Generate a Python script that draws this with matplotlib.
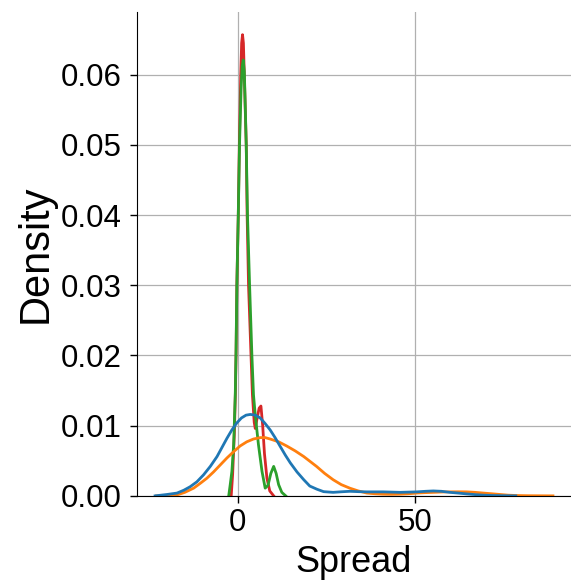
import matplotlib
matplotlib.use("Agg")
import matplotlib.pyplot as plt
from matplotlib.ticker import MultipleLocator

plt.rcParams['font.family'] = ['Liberation Sans', 'DejaVu Sans']

# density curves (x = Spread, y = Density)
blue_x = [-23.4, -20.0, -17.2, -15.3, -13.5, -11.6, -9.7, -7.8, -5.9, -4.5, -3.1, -1.7, -0.3,
          1.0, 2.3, 3.5, 4.9, 6.3, 7.7, 9.1, 10.5, 12.0, 13.4, 14.8, 16.7, 18.6, 20.3,
          22.3, 24.2, 26.9, 29.2, 31.6, 34.0, 36.4, 41.0, 45.8, 50.5, 53.0, 55.2, 57.5,
          59.9, 62.2, 64.6, 67.0, 69.3, 72.0, 74.0, 76.5, 78.5]
blue_y = [0.0000, 0.0002, 0.0004, 0.0008, 0.0013, 0.0020, 0.0030, 0.0042, 0.0056, 0.0069, 0.0082,
          0.0094, 0.0104, 0.0111, 0.0115, 0.0116, 0.0115, 0.0111, 0.0103, 0.0094, 0.0083,
          0.0070, 0.0058, 0.0047, 0.0034, 0.0023, 0.0014, 0.00095, 0.0006, 0.0005, 0.00058,
          0.00065, 0.0006, 0.00057, 0.00057, 0.0005, 0.00057, 0.00065, 0.0007, 0.00065,
          0.0005, 0.0004, 0.00028, 0.00018, 0.0001, 0.00005, 0.00003, 0.00001, 0.0]

orange_x = [-23.0, -20.0, -17.2, -15.0, -12.5, -10.6, -8.8, -6.9, -5.0, -3.1, -1.2, 0.6, 2.5,
            4.4, 6.3, 7.7, 9.1, 11.5, 13.8, 16.2, 18.6, 20.4, 22.2, 24.5, 26.9, 29.2,
            31.6, 34.0, 36.4, 38.7, 41.0, 43.4, 45.8, 48.2, 50.5, 52.9, 55.2, 57.6, 59.9,
            62.3, 64.6, 67.0, 69.3, 71.7, 74.0, 76.3, 78.7, 82.0, 85.5, 89.0]
orange_y = [0.0000, 0.00005, 0.00014, 0.0005, 0.0011, 0.0018, 0.0025, 0.0034, 0.0044, 0.0054,
            0.0063, 0.0071, 0.0077, 0.0081, 0.0083, 0.0083, 0.0081, 0.0077, 0.0071, 0.0064,
            0.0056, 0.0049, 0.0042, 0.0032, 0.0023, 0.0016, 0.0011, 0.0007, 0.0004, 0.0003,
            0.00024, 0.00022, 0.00024, 0.0003, 0.0004, 0.00046, 0.0005, 0.00055, 0.00057,
            0.00058, 0.00057, 0.0005, 0.0004, 0.0003, 0.0002, 0.0001, 0.00005, 0.00002,
            0.00001, 0.0]

green_x = [-2.6, -2.2, -1.7, -1.2, -0.75, -0.55, -0.3, -0.1, 0.1, 0.45, 0.9, 1.2, 1.5, 1.8,
           2.0, 2.35, 2.7, 3.0, 3.3, 3.95, 4.4, 4.9, 5.8, 6.8, 7.7, 8.5, 9.3, 10.1, 10.8,
           11.5, 12.4, 13.5]
green_y = [0.0, 0.0015, 0.0035, 0.0073, 0.0144, 0.020, 0.030, 0.035, 0.040, 0.050, 0.058,
           0.0612, 0.0621, 0.0605, 0.057, 0.050, 0.040, 0.035, 0.030, 0.020, 0.0144, 0.0115,
           0.0073, 0.0035, 0.0011, 0.0015, 0.0032, 0.0042, 0.0032, 0.0016, 0.0005, 0.0]

red_x = [-1.9, -1.5, -1.0, -0.7, -0.5, -0.3, -0.1, 0.1, 0.4, 0.8, 1.05, 1.3, 1.55, 1.8,
         2.35, 2.6, 2.8, 3.0, 3.7, 4.1, 4.6, 4.9, 5.4, 6.0, 6.5, 7.0, 7.5, 8.2, 9.0, 10.1]
red_y = [0.0, 0.003, 0.009, 0.015, 0.021, 0.030, 0.035, 0.040, 0.050, 0.060, 0.0645,
         0.0657, 0.0645, 0.060, 0.050, 0.040, 0.035, 0.030, 0.020, 0.0144, 0.0105, 0.0096,
         0.011, 0.0125, 0.0128, 0.010, 0.006, 0.0025, 0.0007, 0.0]

fig = plt.figure(figsize=(5.71, 5.82), dpi=100)
ax = fig.add_axes([0.24, 0.148, 0.76, 0.831])

ax.plot(red_x, red_y, color='tab:red', lw=2)
ax.plot(green_x, green_y, color='tab:green', lw=2)
ax.plot(orange_x, orange_y, color='tab:orange', lw=2)
ax.plot(blue_x, blue_y, color='tab:blue', lw=2)

ax.set_xlim(-28.5, 94.1)
ax.set_ylim(0, 0.0689)
ax.xaxis.set_major_locator(MultipleLocator(50))
ax.yaxis.set_major_locator(MultipleLocator(0.01))
ax.yaxis.set_major_formatter(matplotlib.ticker.FormatStrFormatter('%.2f'))
ax.grid(True, color='#b0b0b0', lw=0.9)
ax.set_axisbelow(True)
for s in ['top', 'right']:
    ax.spines[s].set_visible(False)
ax.tick_params(labelsize=22.5, length=5, width=1)
ax.tick_params(axis='y', pad=6)
ax.set_xlabel('Spread', fontsize=26, labelpad=5)
ax.set_ylabel('Density', fontsize=30, labelpad=4)

fig.savefig('out.png')
